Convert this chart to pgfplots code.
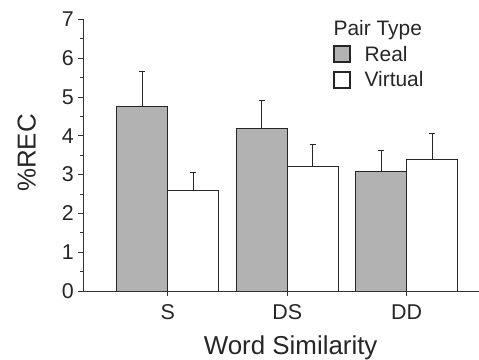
\documentclass[border=0pt]{standalone}
\usepackage{pgfplots}
\pgfplotsset{compat=1.18}
\usepackage{fontspec}
\setmainfont{Liberation Sans}
\definecolor{realgray}{RGB}{178,178,178}
\begin{document}
\begin{tikzpicture}
\begin{axis}[
  at={(83.3bp,69bp)}, anchor=south west,
  scale only axis,
  width=395.7bp, height=271.6bp,
  xmin=-0.706, xmax=2.605,
  ymin=0, ymax=7,
  axis lines=left,
  axis line style={-, line width=1pt, black!80},
  ybar=0pt,
  bar width=51bp,
  xtick={0,1,2},
  xticklabels={S,DS,DD},
  ytick={0,1,...,7},
  minor y tick num=1,
  tick align=outside,
  major tick length=5bp,
  minor tick length=3bp,
  tick style={line width=0.8pt, black!80},
  /pgf/number format/assume math mode=true,
  tick label style={font=\fontsize{21.5}{25}\selectfont, text=black!85},
  xticklabel style={yshift=-5bp},
  yticklabel style={xshift=-1bp},
  xlabel={Word Similarity},
  ylabel={\%REC},
  label style={font=\fontsize{26}{30}\selectfont, text=black!85},
  xlabel style={at={(axis description cs:0.524,-0.21)}, anchor=center},
  ylabel style={at={(axis description cs:-0.143,0.508)}, anchor=center, rotate=0},
  legend style={draw=none, fill=none, at={(axis description cs:0.622,1.012)}, anchor=north west,
    font=\fontsize{21}{25}\selectfont, text=black!85, row sep=5bp,
    /tikz/every odd column/.append style={column sep=12bp}},
  legend cell align=left,
  legend image code/.code={\draw[#1, line width=2pt, draw=black!85] (0bp,-8bp) rectangle (16bp,8bp);},
  error bars/y dir=plus,
  error bars/y explicit,
  error bars/error mark options={rotate=90, mark size=3bp, line width=0.9pt, black!85},
  error bars/error bar style={line width=0.9pt, black!85},
]
\addlegendimage{empty legend}
\addlegendentry{\hspace{-31bp}Pair Type}
\addplot[fill=realgray, draw=black!85, line width=1pt] coordinates {
  (0,4.75) +- (0,0.90)
  (1,4.19) +- (0,0.73)
  (2,3.08) +- (0,0.55)
};
\addlegendentry{Real}
\addplot[fill=white, draw=black!85, line width=1pt] coordinates {
  (0,2.58) +- (0,0.48)
  (1,3.20) +- (0,0.58)
  (2,3.38) +- (0,0.67)
};
\addlegendentry{Virtual}
\end{axis}
\pgfresetboundingbox
\path[use as bounding box] (0,0) rectangle (479bp,360bp);
\end{tikzpicture}
\end{document}
